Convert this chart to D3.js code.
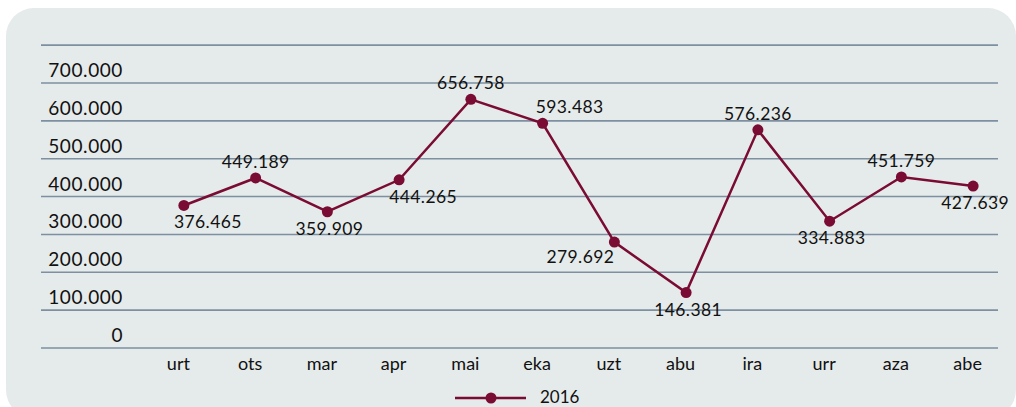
<!DOCTYPE html>
<html>
<head>
<meta charset="utf-8">
<script src="https://cdn.jsdelivr.net/npm/d3@7"></script>
<style>
  body { margin: 0; background: #fff; }
  text { font-family: Lato, "Open Sans", sans-serif; fill: #111; }
</style>
</head>
<body>
<div class="canvas"></div>
<script>
// data
const months = ["urt", "ots", "mar", "apr", "mai", "eka", "uzt", "abu", "ira", "urr", "aza", "abe"];
const values2016 = [376465, 449189, 359909, 444265, 656758, 593483, 279692, 146381, 576236, 334883, 451759, 427639];
const yTicks = [0, 100000, 200000, 300000, 400000, 500000, 600000, 700000, 800000];
const seriesName = "2016";

// where each value label sits relative to its point
const labelPlace = ["br", "t", "b", "br", "t", "tr", "bl", "b", "t", "b", "t", "b"];

const W = 1016, H = 407;
const color = "#7a0b33";
const gridColor = "#7d8fa0";

const svg = d3.select(".canvas")
    .append("svg")
    .attr("width", W)
    .attr("height", H);

// background panel
svg.append("rect")
    .attr("x", 6)
    .attr("y", 8)
    .attr("width", 1010)
    .attr("height", 410)
    .attr("rx", 28)
    .attr("fill", "#e5eaea");

// scales
const x = d3.scaleBand()
    .domain(months)
    .range([148, 1009]);

const y = d3.scaleLinear()
    .domain([0, 700000])
    .range([348, 83]);

const fmt = d => d3.format(",")(d).replace(/,/g, ".");

// gridlines
svg.selectAll(".grid")
    .data(yTicks)
    .join("line")
    .attr("class", "grid")
    .attr("x1", 41)
    .attr("x2", 998)
    .attr("y1", d => y(d))
    .attr("y2", d => y(d))
    .attr("stroke", gridColor)
    .attr("stroke-width", 1.6);

// y tick labels (sit above the line)
svg.selectAll(".ylab")
    .data(yTicks.filter(d => d < 800000))
    .join("text")
    .attr("class", "ylab")
    .attr("x", 123)
    .attr("y", d => y(d) - 6)
    .attr("text-anchor", "end")
    .style("font-size", "19px")
    .style("letter-spacing", "0.6px")
    .text(d => fmt(d));

// x axis labels
svg.append("g")
    .attr("transform", `translate(-5.5, ${y(0)})`)
    .call(d3.axisBottom(x).tickSize(0).tickPadding(0))
    .call(g => g.select(".domain").remove())
    .selectAll("text")
    .attr("dy", 0)
    .attr("y", 22)
    .style("font-size", "18px")
    .style("font-family", "Lato, sans-serif")
    .attr("fill", "#111");

const cx = (d, i) => x(months[i]) + x.bandwidth() / 2;

// line
const line = d3.line()
    .x((d, i) => cx(d, i))
    .y(d => y(d));

svg.append("path")
    .datum(values2016)
    .attr("fill", "none")
    .attr("stroke", color)
    .attr("stroke-width", 2.5)
    .attr("d", line);

svg.selectAll(".pt")
    .data(values2016)
    .join("circle")
    .attr("class", "pt")
    .attr("cx", cx)
    .attr("cy", d => y(d))
    .attr("r", 5.5)
    .attr("fill", color);

// value labels
const offs = {
    t:  [0, -10],
    tr: [27, -10],
    b:  [2, 23],
    br: [24, 23],
    bl: [-34, 21]
};

svg.selectAll(".vlab")
    .data(values2016)
    .join("text")
    .attr("class", "vlab")
    .attr("x", (d, i) => cx(d, i) + offs[labelPlace[i]][0])
    .attr("y", (d, i) => y(d) + offs[labelPlace[i]][1])
    .attr("text-anchor", "middle")
    .style("font-size", "17.5px")
    .style("letter-spacing", "0.4px")
    .text(d => fmt(d));

// legend
const leg = svg.append("g").attr("transform", "translate(455, 398)");
leg.append("line")
    .attr("x1", 0).attr("x2", 71)
    .attr("stroke", color)
    .attr("stroke-width", 2.5);
leg.append("circle")
    .attr("cx", 36)
    .attr("r", 5.5)
    .attr("fill", color);
leg.append("text")
    .attr("x", 85)
    .attr("y", 5)
    .style("font-size", "17px")
    .text(seriesName);
</script>
</body>
</html>
